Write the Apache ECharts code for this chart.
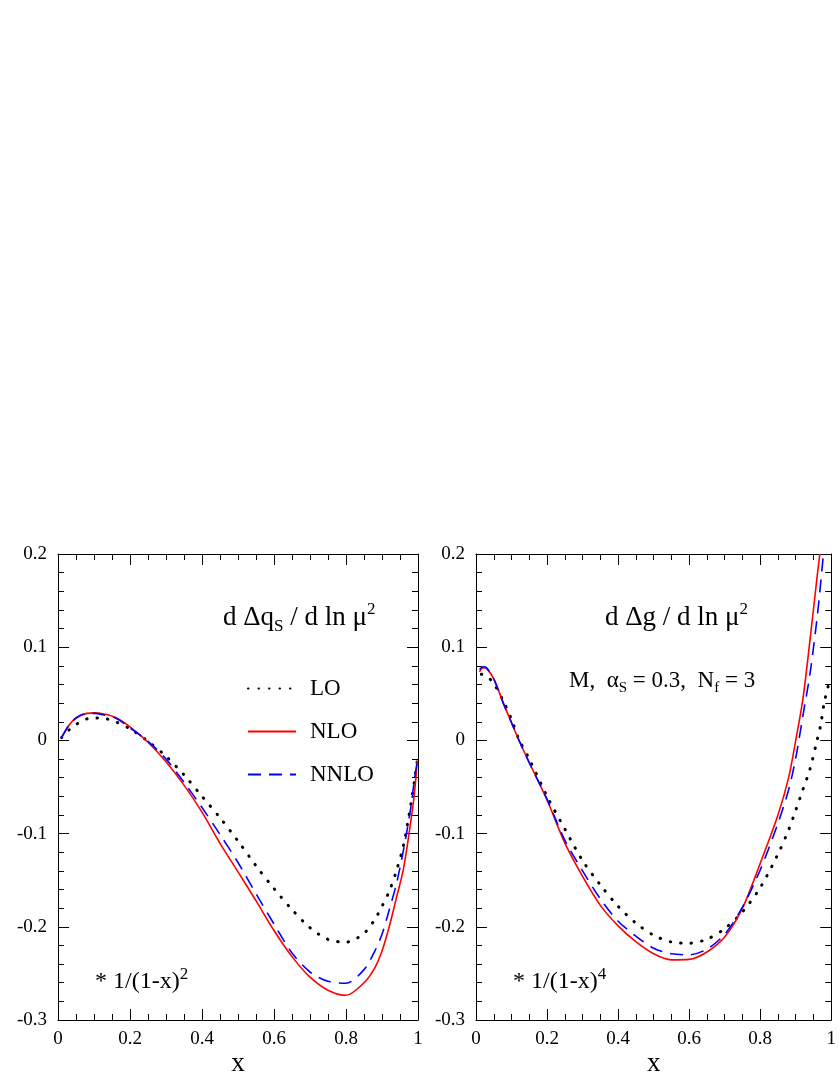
<!DOCTYPE html>
<html>
<head>
<meta charset="utf-8">
<script src="https://cdn.jsdelivr.net/npm/echarts@6/dist/echarts.min.js"></script>
<style>
  html, body { margin: 0; padding: 0; background: #fff; }
  #chart { width: 839px; height: 1086px; }
</style>
</head>
<body>
<div id="chart"></div>
<script>
// left panel: d Δq_S / d ln μ² * 1/(1-x)^2
const xLeft    = [0.01, 0.03, 0.05, 0.08, 0.1, 0.13, 0.16, 0.2, 0.25, 0.3, 0.35, 0.4, 0.45, 0.5, 0.55, 0.6, 0.65, 0.7, 0.75, 0.8, 0.85, 0.88, 0.9, 0.92, 0.94, 0.96, 0.98, 0.99, 0.998];
const loLeft   = [0.003, 0.011, 0.017, 0.023, 0.024, 0.0235, 0.020, 0.0125, -0.001, -0.017, -0.037, -0.060, -0.083, -0.108, -0.1345, -0.159, -0.1815, -0.201, -0.2135, -0.2165, -0.207, -0.192, -0.178, -0.162, -0.140, -0.112, -0.069, -0.044, -0.022];
const nloLeft  = [0.003, 0.016, 0.024, 0.029, 0.0295, 0.028, 0.0245, 0.0145, -0.002, -0.023, -0.048, -0.077, -0.1105, -0.141, -0.172, -0.204, -0.232, -0.254, -0.268, -0.2735, -0.260, -0.244, -0.226, -0.200, -0.169, -0.137, -0.087, -0.057, -0.022];
const nnloLeft = [0.003, 0.016, 0.024, 0.029, 0.029, 0.027, 0.024, 0.0135, -0.001, -0.020, -0.045, -0.072, -0.101, -0.131, -0.1645, -0.197, -0.228, -0.2485, -0.2585, -0.2605, -0.246, -0.226, -0.208, -0.182, -0.154, -0.117, -0.072, -0.042, -0.022];

// right panel: d Δg / d ln μ² * 1/(1-x)^4
const xLoRight   = [0.015, 0.03, 0.05, 0.08, 0.1, 0.12, 0.15, 0.2, 0.25, 0.3, 0.35, 0.4, 0.45, 0.5, 0.55, 0.6, 0.65, 0.7, 0.75, 0.8, 0.85, 0.88, 0.9, 0.92, 0.94, 0.96, 0.97, 0.98, 0.992];
const loRight    = [0.071, 0.069, 0.061, 0.040, 0.0225, 0.002, -0.020, -0.060, -0.095, -0.129, -0.155, -0.178, -0.196, -0.209, -0.2163, -0.2176, -0.2133, -0.202, -0.184, -0.158, -0.122, -0.096, -0.075, -0.053, -0.031, 0.000, 0.016, 0.040, 0.059];
const xNloRight  = [0.01, 0.02, 0.03, 0.05, 0.08, 0.1, 0.12, 0.15, 0.2, 0.25, 0.3, 0.35, 0.4, 0.45, 0.5, 0.55, 0.6, 0.65, 0.7, 0.75, 0.8, 0.85, 0.88, 0.9, 0.92, 0.94, 0.96, 0.968];
const nloRight   = [0.0735, 0.078, 0.077, 0.066, 0.037, 0.019, 0.001, -0.024, -0.064, -0.110, -0.146, -0.177, -0.199, -0.216, -0.229, -0.2355, -0.235, -0.227, -0.211, -0.180, -0.132, -0.080, -0.040, 0.000, 0.044, 0.107, 0.175, 0.2];
const xNnloRight = [0.01, 0.02, 0.03, 0.05, 0.08, 0.1, 0.12, 0.15, 0.2, 0.25, 0.3, 0.35, 0.4, 0.45, 0.5, 0.55, 0.6, 0.65, 0.7, 0.75, 0.8, 0.85, 0.88, 0.9, 0.92, 0.94, 0.96, 0.97, 0.978];
const nnloRight  = [0.076, 0.079, 0.078, 0.066, 0.037, 0.019, 0.001, -0.024, -0.063, -0.107, -0.140, -0.170, -0.194, -0.210, -0.223, -0.229, -0.230, -0.224, -0.208, -0.179, -0.139, -0.089, -0.053, -0.019, 0.026, 0.071, 0.131, 0.168, 0.2];

const FONT = 'Liberation Serif';
const zip = (xs, ys) => xs.map((x, i) => [x, ys[i]]);

const myChart = echarts.init(document.getElementById('chart'));

function xAx(grid, top) {
  return {
    type: 'value', gridIndex: grid, position: top ? 'top' : 'bottom',
    min: 0, max: 1, interval: 0.2,
    name: top ? '' : 'x', nameLocation: 'middle', nameGap: 30,
    nameTextStyle: { fontFamily: FONT, fontSize: 27, color: '#000' },
    axisLine: { show: true, onZero: false, lineStyle: { color: '#000', width: 1 } },
    axisTick: { show: true, inside: true, length: 11, lineStyle: { color: '#000' } },
    minorTick: { show: true, splitNumber: 4, length: 6, lineStyle: { color: '#000' } },
    axisLabel: { show: !top, margin: 10, fontFamily: FONT, fontSize: 19, color: '#000' },
    splitLine: { show: false }
  };
}
function yAx(grid, right) {
  return {
    type: 'value', gridIndex: grid, position: right ? 'right' : 'left',
    min: -0.3, max: 0.2, interval: 0.1,
    axisLine: { show: true, onZero: false, lineStyle: { color: '#000', width: 1 } },
    axisTick: { show: true, inside: true, length: 11, lineStyle: { color: '#000' } },
    minorTick: { show: true, splitNumber: 5, length: 6, lineStyle: { color: '#000' } },
    axisLabel: { show: !right, margin: 11, fontFamily: FONT, fontSize: 19, color: '#000' },
    splitLine: { show: false }
  };
}

const loStyle   = { color: '#000', width: 3, type: [0.5, 10], cap: 'round' };
const nloStyle  = { color: '#ff0000', width: 1.6, type: 'solid' };
const nnloStyle = { color: '#0000ff', width: 1.6, type: [13, 8] };

function line(name, data, style, xi, yi) {
  return {
    name: name, type: 'line', data: data, xAxisIndex: xi, yAxisIndex: yi,
    showSymbol: false, symbol: 'none', smooth: 0.3,
    itemStyle: { color: style.color },
    lineStyle: style
  };
}

const txt = { fontFamily: FONT, fontWeight: 'normal', color: '#000' };
const richSub = { fontFamily: FONT, fontSize: 17, lineHeight: 16, verticalAlign: 'bottom', color: '#000' };
const richSup = { fontFamily: FONT, fontSize: 17, lineHeight: 16, verticalAlign: 'top', color: '#000' };

const option = {
  backgroundColor: '#fff',
  animation: false,
  grid: [
    { left: 58, top: 554, width: 360, height: 466 },
    { left: 476, top: 554, width: 360, height: 466 }
  ],
  title: [
    { text: 'd Δq{sub|S} / d ln μ{sup|2}', left: 218, top: 596,
      textStyle: Object.assign({ fontSize: 27, lineHeight: 34, rich: { sub: richSub, sup: richSup } }, txt) },
    { text: 'd Δg / d ln μ{sup|2}', left: 600, top: 596,
      textStyle: Object.assign({ fontSize: 27, lineHeight: 34, rich: { sup: richSup } }, txt) },
    { text: 'M,  α{sub|S} = 0.3,  N{sub|f} = 3', left: 564, top: 661,
      textStyle: Object.assign({ fontSize: 23, lineHeight: 30,
        rich: { sub: Object.assign({}, richSub, { fontSize: 15, lineHeight: 12 }) } }, txt) },
    { text: '* 1/(1-x){sup|2}', left: 90, top: 961,
      textStyle: Object.assign({ fontSize: 24, lineHeight: 32, rich: { sup: richSup } }, txt) },
    { text: '* 1/(1-x){sup|4}', left: 508, top: 961,
      textStyle: Object.assign({ fontSize: 24, lineHeight: 32, rich: { sup: richSup } }, txt) }
  ],
  legend: {
    data: ['LO', 'NLO', 'NNLO'],
    orient: 'vertical', left: 242, top: 672,
    itemWidth: 48, itemHeight: 14, itemGap: 20,
    selectedMode: false,
    itemStyle: { opacity: 0 },
    textStyle: { fontFamily: FONT, fontSize: 23, lineHeight: 22, color: '#000', padding: [0, 0, 0, 9] }
  },
  xAxis: [xAx(0, false), xAx(0, true), xAx(1, false), xAx(1, true)],
  yAxis: [yAx(0, false), yAx(0, true), yAx(1, false), yAx(1, true)],
  series: [
    line('LO', zip(xLeft, loLeft), loStyle, 0, 0),
    line('NLO', zip(xLeft, nloLeft), nloStyle, 0, 0),
    line('NNLO', zip(xLeft, nnloLeft), nnloStyle, 0, 0),
    line('LO', zip(xLoRight, loRight), loStyle, 2, 2),
    line('NLO', zip(xNloRight, nloRight), nloStyle, 2, 2),
    line('NNLO', zip(xNnloRight, nnloRight), nnloStyle, 2, 2)
  ]
};
myChart.setOption(option);
</script>
</body>
</html>
